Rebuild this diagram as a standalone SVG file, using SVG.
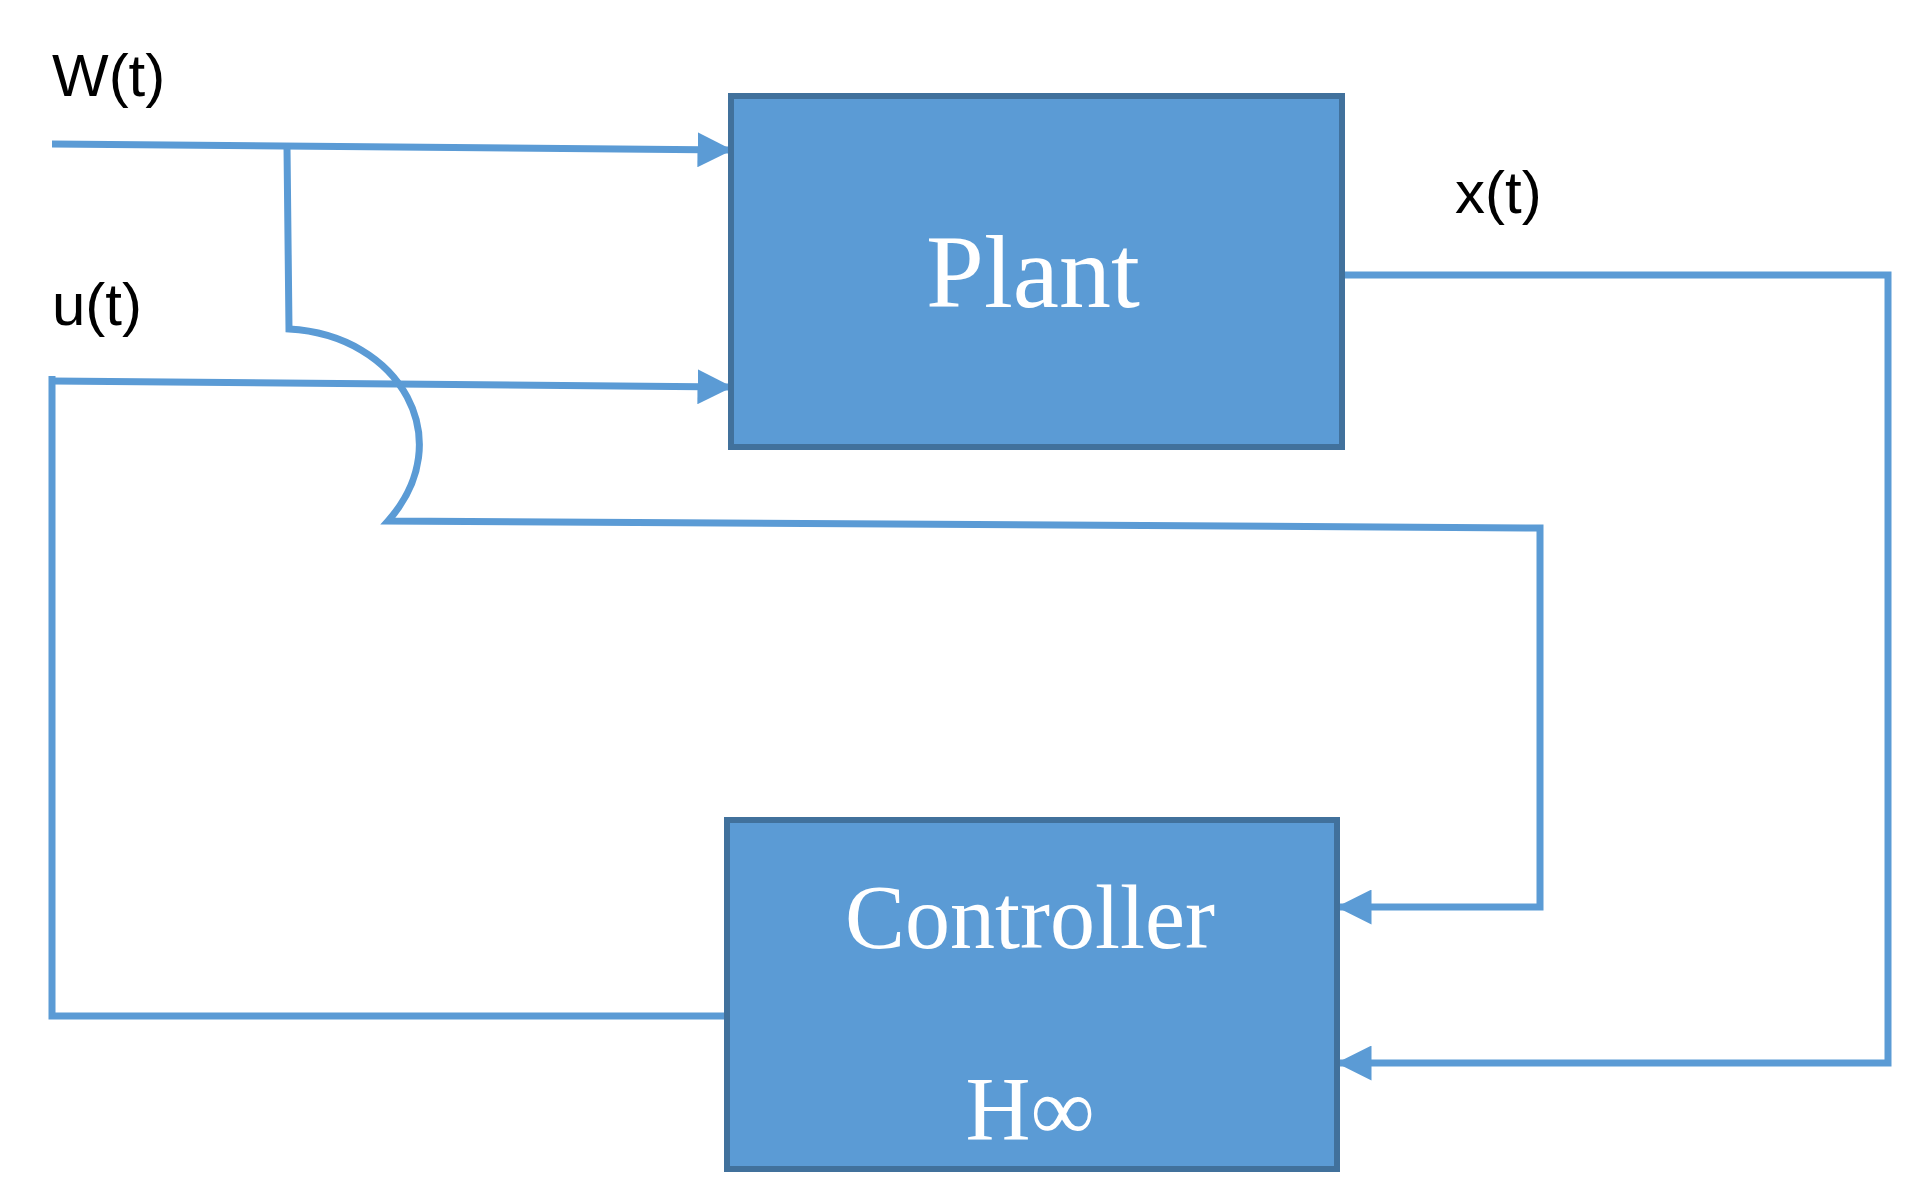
<svg xmlns="http://www.w3.org/2000/svg" width="1913" height="1192" viewBox="0 0 1913 1192">
<style>
.box{fill:#5B9BD5;stroke:#41719C;stroke-width:6}
.ln{fill:none;stroke:#5B9BD5;stroke-width:7}
.lbl{font-family:"Liberation Sans",Arial,sans-serif;font-size:60px;fill:#000}
.bt{font-family:"Liberation Serif","Times New Roman",serif;fill:#fff;text-anchor:middle}
</style>
<defs>
<marker id="ar" viewBox="0 0 10 10" refX="9" refY="5" markerWidth="5" markerHeight="5" orient="auto" markerUnits="strokeWidth"><path d="M0,0 L10,5 L0,10 z" fill="#5B9BD5"/></marker>
</defs>
<rect width="1913" height="1192" fill="#fff"/>
<g id="connectors">
<path class="ln" d="M52,144 L729,150" marker-end="url(#ar)"/>
<path class="ln" d="M287,147 L289,329 C400,335 460,440 388,521 L1540,528 L1540,907 L1340,907" marker-end="url(#ar)"/>
<path class="ln" d="M52,381 L729,387" marker-end="url(#ar)"/>
<path class="ln" d="M729,1016 L52,1016 L52,376"/>
<path class="ln" d="M1342,275 L1888,275 L1888,1063 L1340,1063" marker-end="url(#ar)"/>
</g>
<g id="plant"><rect class="box" x="731" y="96" width="611" height="351"/><text class="bt" x="1033" y="307" font-size="104">Plant</text></g>
<g id="controller"><rect class="box" x="727" y="820" width="610" height="349"/><text class="bt" x="1030" y="948" font-size="90">Controller</text><text class="bt" x="1030" y="1140" font-size="90">H∞</text></g>
<g id="labels">
<text class="lbl" x="52" y="96">W(t)</text>
<text class="lbl" x="52" y="325">u(t)</text>
<text class="lbl" x="1455" y="213">x(t)</text>
</g>
</svg>
